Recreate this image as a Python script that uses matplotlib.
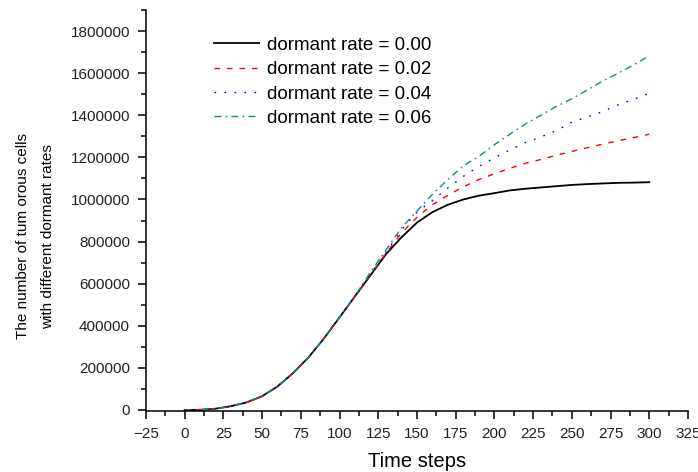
# plot.py
# Tumorous cell counts over time for several dormant rates.

import matplotlib
matplotlib.use('Agg')
import matplotlib.pyplot as plt
from matplotlib.ticker import MultipleLocator, FuncFormatter

plt.rcParams['font.family'] = ['Liberation Sans', 'DejaVu Sans']

# data
steps = [0, 10, 20, 30, 40, 50, 60, 70, 80, 90, 100, 110, 120, 130, 140, 150,
         160, 170, 180, 190, 200, 210, 220, 230, 240, 250, 260, 270, 280, 290, 300]

rate_000 = [0, 1000, 6000, 18000, 36000, 65000, 112000, 175000, 250000, 340000,
            440000, 540000, 640000, 740000, 820000, 890000, 940000, 975000,
            1000000, 1018000, 1030000, 1043000, 1051000, 1057000, 1063000,
            1069000, 1073000, 1076000, 1079000, 1080000, 1082000]

rate_002 = [0, 1000, 6000, 18000, 36000, 65000, 112000, 175000, 250000, 340000,
            440000, 540000, 642000, 745000, 840000, 915000, 975000, 1020000,
            1060000, 1095000, 1122000, 1148000, 1172000, 1190000, 1210000,
            1228000, 1246000, 1263000, 1279000, 1294000, 1310000]

rate_004 = [0, 1000, 6000, 18000, 36000, 65000, 112000, 175000, 250000, 340000,
            440000, 540000, 645000, 750000, 855000, 940000, 995000, 1055000,
            1110000, 1157000, 1198000, 1235000, 1270000, 1297000, 1327000,
            1367000, 1392000, 1418000, 1450000, 1476000, 1505000]

rate_006 = [0, 1000, 6000, 18000, 36000, 65000, 112000, 175000, 250000, 340000,
            440000, 542000, 655000, 760000, 865000, 945000, 1025000, 1095000,
            1160000, 1205000, 1260000, 1310000, 1358000, 1400000, 1442000,
            1478000, 1520000, 1563000, 1600000, 1640000, 1682000]

labels = ['dormant rate = 0.00', 'dormant rate = 0.02',
          'dormant rate = 0.04', 'dormant rate = 0.06']

fig = plt.figure(figsize=(6.98, 4.72), dpi=100)
ax = fig.add_axes([0.209, 0.1292, 0.7767, 0.8496])

ax.plot(steps, rate_000, color='black', linewidth=1.3, linestyle='-', label=labels[0])
ax.plot(steps, rate_002, color='#ff0000', linewidth=1.0, linestyle=(0, (4, 5)), label=labels[1])
ax.plot(steps, rate_004, color='#0000ff', linewidth=1.0, linestyle=(0, (1.2, 6)), label=labels[2])
ax.plot(steps, rate_006, color='#128c84', linewidth=1.0, linestyle=(0, (5, 3, 1.2, 3)), label=labels[3])

ax.set_xlim(-25, 325)
ax.set_ylim(-5000, 1900000)
ax.xaxis.set_major_locator(MultipleLocator(25))
ax.xaxis.set_minor_locator(MultipleLocator(12.5))
ax.yaxis.set_major_locator(MultipleLocator(200000))
ax.yaxis.set_minor_locator(MultipleLocator(100000))
ax.yaxis.set_major_formatter(FuncFormatter(lambda v, pos: '%d' % round(v)))

for side in ['top', 'right']:
    ax.spines[side].set_visible(False)
for side in ['left', 'bottom']:
    ax.spines[side].set_linewidth(1.1)

ax.tick_params(which='major', direction='out', length=6, width=1.1,
               labelsize=11, pad=5.5, colors='black', labelcolor='#222222')
ax.tick_params(which='minor', direction='out', length=3.5, width=1.1)

ax.set_xlabel('Time steps', fontsize=14.5, labelpad=8)
ax.set_ylabel('The number of tum orous cells\nwith different dormant rates',
              fontsize=11, linespacing=1.95)
ax.yaxis.set_label_coords(-0.168, 0.436)

ax.legend(loc='upper left', bbox_to_anchor=(0.095, 0.975), frameon=False,
          fontsize=13.5, handlelength=2.4, handletextpad=0.4, labelspacing=0.38)

plt.savefig('out.png', dpi=100)
